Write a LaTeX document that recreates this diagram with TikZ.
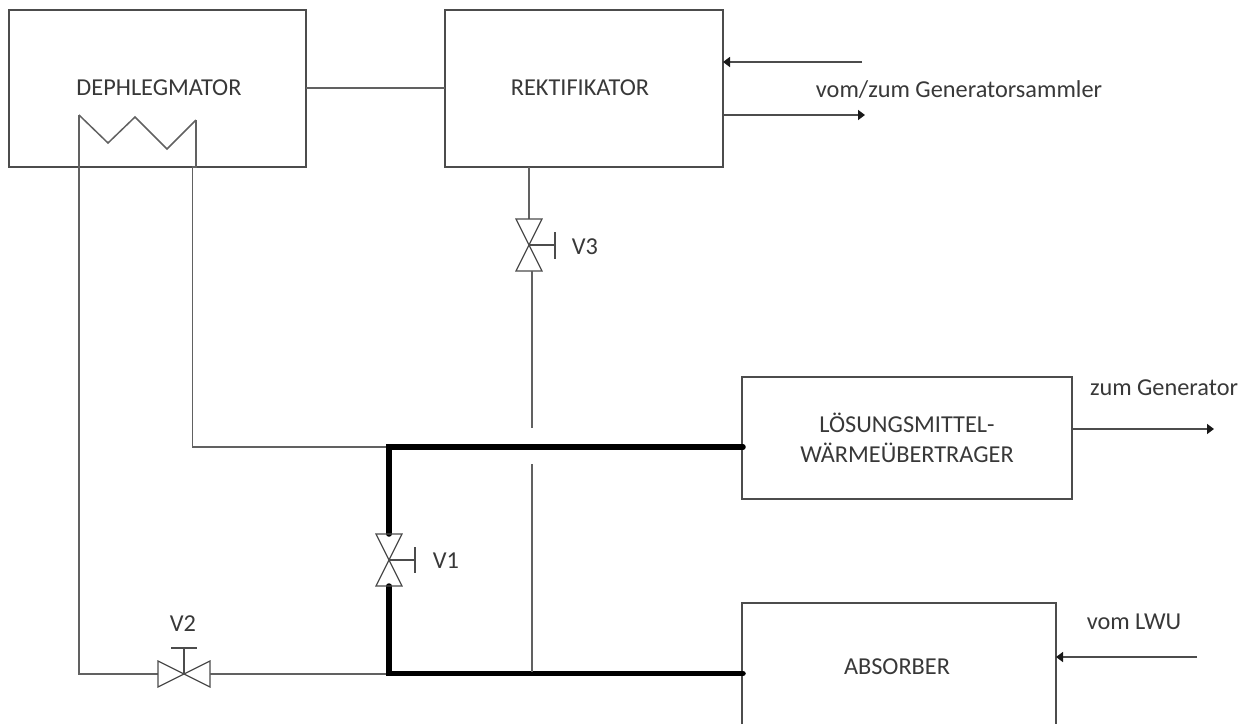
\documentclass[tikz,border=0pt]{standalone}
\usepackage{fontspec}
\setmainfont{Carlito}
\usetikzlibrary{arrows.meta}
\tikzset{
  x=1pt,y=-1pt,
  box/.style={draw=black!70,line width=1.5pt,inner sep=0pt,outer sep=0pt},
  pipe/.style={draw=black!62,line width=1.5pt},
  heavypipe/.style={draw=black,line width=5.5pt},
  arrowpipe/.style={draw=black!70,line width=1.5pt,-{Triangle[length=7pt,width=10pt,color=black!90]}},
  lbl/.style={font=\fontsize{24.3}{30}\selectfont,text=black!78,inner sep=0pt,align=center},
  valve/.style={draw=black!70,line width=1.2pt,line join=miter}
}
\begin{document}
\begin{tikzpicture}
\useasboundingbox (0,0) rectangle (1252,724);
% boxes
\node[box,minimum width=297pt,minimum height=157pt] (deph) at (157.5,88.5) {};
\node[box,minimum width=278pt,minimum height=157pt] (rekt) at (584,88.5) {};
\node[box,minimum width=330pt,minimum height=122pt] (loes) at (907,438) {};
\coordinate (abTL) at (742,603); \coordinate (abTR) at (1056,603);
\coordinate (abBL) at (742,724); \coordinate (abBR) at (1056,724);
\draw[box] (abBL) -- (abTL) -- (abTR) -- (abBR);
% labels
\node[lbl] (tdeph) at (159,88) {DEPHLEGMATOR};
\node[lbl] (trekt) at (580,88) {REKTIFIKATOR};
\node[lbl] (tloes) at (907,438) {LÖSUNGSMITTEL-\\WÄRMEÜBERTRAGER};
\node[lbl] (tabs) at (897,667) {ABSORBER};
\node[lbl] (tgs) at (959,90) {vom/zum Generatorsammler};
\node[lbl] (tzg) at (1164,388) {zum Generator};
\node[lbl] (tlwu) at (1134,622) {vom LWU};
\node[lbl] (tv1) at (446,561) {V1};
\node[lbl] (tv2) at (183,624) {V2};
\node[lbl] (tv3) at (585,247) {V3};
% coil in dephlegmator
\coordinate (c1) at (79,115);
\coordinate (c5) at (196,120);
\draw[pipe] (c1) -- (108,143) -- (135,117) -- (167,149) -- (c5);
\draw[pipe] (c1) -- (79,674) -- (158,674);
\draw[pipe] (c5) -- (196,167) -- (192.5,167) -- (192.5,447) -- (388,447);
% deph - rekt
\draw[pipe] (deph.east |- 0,88) -- (rekt.west |- 0,88);
% V2
\coordinate (v2c) at (184,674);
\draw[valve] (158,661) -- (210,687) -- (210,661) -- (158,687) -- cycle;
\draw[valve] (v2c) -- (184,648);
\draw[valve,line width=1.8pt] (171,648) -- (197,648);
\draw[pipe] (210,674) -- (388,674);
% thick lines
\draw[heavypipe,line cap=round] (743,447) -- (389,447) -- (389,534);
\draw[heavypipe,line cap=round] (743,673.5) -- (389,673.5) -- (389,586);
% V1
\coordinate (v1c) at (389,560);
\draw[valve] (376,534) -- (402,586) -- (376,586) -- (402,534) -- cycle;
\draw[valve] (v1c) -- (415,560);
\draw[valve,line width=1.5pt] (415,547) -- (415,573);
% V3
\coordinate (v3c) at (529,245);
\draw[pipe] (rekt.south -| 529,0) -- (529,219);
\draw[valve] (516,219) -- (542,271) -- (516,271) -- (542,219) -- cycle;
\draw[valve] (v3c) -- (555,245);
\draw[valve,line width=1.5pt] (555,232) -- (555,259);
\draw[pipe] (532,271) -- (532,428);
\draw[pipe] (532,464) -- (532,672);
% arrows
\draw[arrowpipe] (862,62) -- (rekt.east |- 0,62);
\draw[arrowpipe] (rekt.east |- 0,115) -- (865,115);
\draw[arrowpipe] (loes.east |- 0,429) -- (1214,429);
\draw[arrowpipe] (1197,657) -- (1056,657);
\end{tikzpicture}
\end{document}
